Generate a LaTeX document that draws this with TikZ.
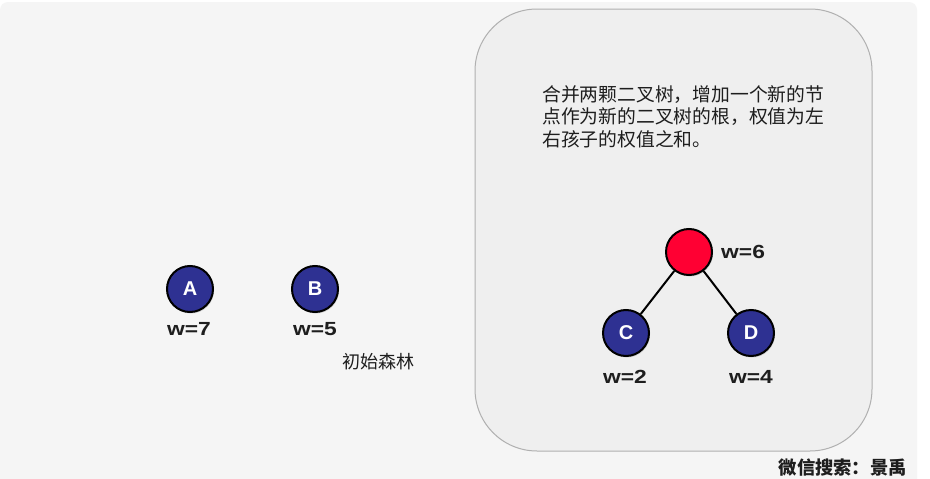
\documentclass[tikz,border=0pt]{standalone}
\usepackage{fontspec}
\setmainfont{Liberation Sans}
\newfontfamily\latw[FakeStretch=1.2]{Liberation Sans}
\newfontfamily\cjk{Noto Sans CJK SC}
\usetikzlibrary{shadows}
\definecolor{panel}{HTML}{F5F5F5}
\definecolor{inner}{HTML}{EFEFEF}
\definecolor{innerline}{HTML}{B0B0B0}
\definecolor{nodeblue}{HTML}{2E3192}
\definecolor{nodered}{HTML}{FF0033}
\definecolor{txt}{HTML}{1E1E1E}
\tikzset{
  treenode/.style={circle, draw=black, line width=2pt, minimum size=46pt, inner sep=0pt,
    text=white, font=\fontsize{20}{20}\selectfont\bfseries,
    drop shadow={shadow xshift=1pt, shadow yshift=-1.5pt, opacity=0.3}},
  bluenode/.style={treenode, fill=nodeblue},
  rednode/.style={treenode, fill=nodered},
  weight/.style={font=\latw\fontsize{19}{19}\selectfont\bfseries, text=txt, inner sep=0pt},
  cjktext/.style={font=\cjk\fontsize{18.8}{22.5}\selectfont, text=txt, inner sep=0pt},
  edge/.style={draw=black, line width=2pt}
}
\begin{document}
\begin{tikzpicture}[x=1pt,y=-1pt]
\useasboundingbox (0,0) rectangle (930,479);
\fill[white] (0,0) rectangle (930,479);
\fill[panel, rounded corners=8pt] (0,2) rectangle (917,490);
\draw[innerline, fill=inner, line width=1pt, rounded corners=62pt] (475,9) rectangle (872,451);
% initial forest
\node[bluenode] (A) at (190,289) {A};
\node[bluenode] (B) at (315,289) {B};
\node[weight] (wA) at (189,329) {w=7};
\node[weight] (wB) at (315,329) {w=5};
\node[cjktext, font=\cjk\fontsize{18}{18}\selectfont] (forest) at (378,362) {初始森林};
% description
\node[cjktext, anchor=north west, align=left] (desc) at (542,85) {合并两颗二叉树，增加一个新的节\\点作为新的二叉树的根，权值为左\\右孩子的权值之和。};
% merged tree
\node[rednode] (R) at (689,252) {};
\node[bluenode] (C) at (626,333) {C};
\node[bluenode] (D) at (751,333) {D};
\draw[edge] (R) -- (C);
\draw[edge] (R) -- (D);
\node[weight, anchor=west] (wR) at (721,252) {w=6};
\node[weight] (wC) at (625,377) {w=2};
\node[weight] (wD) at (751,377) {w=4};
% watermark
\node[font=\cjk\bfseries\fontsize{18.3}{18}\selectfont, text=txt, inner sep=0pt, anchor=east] (wm) at (907,468) {微信搜索：景禹};
\end{tikzpicture}
\end{document}
